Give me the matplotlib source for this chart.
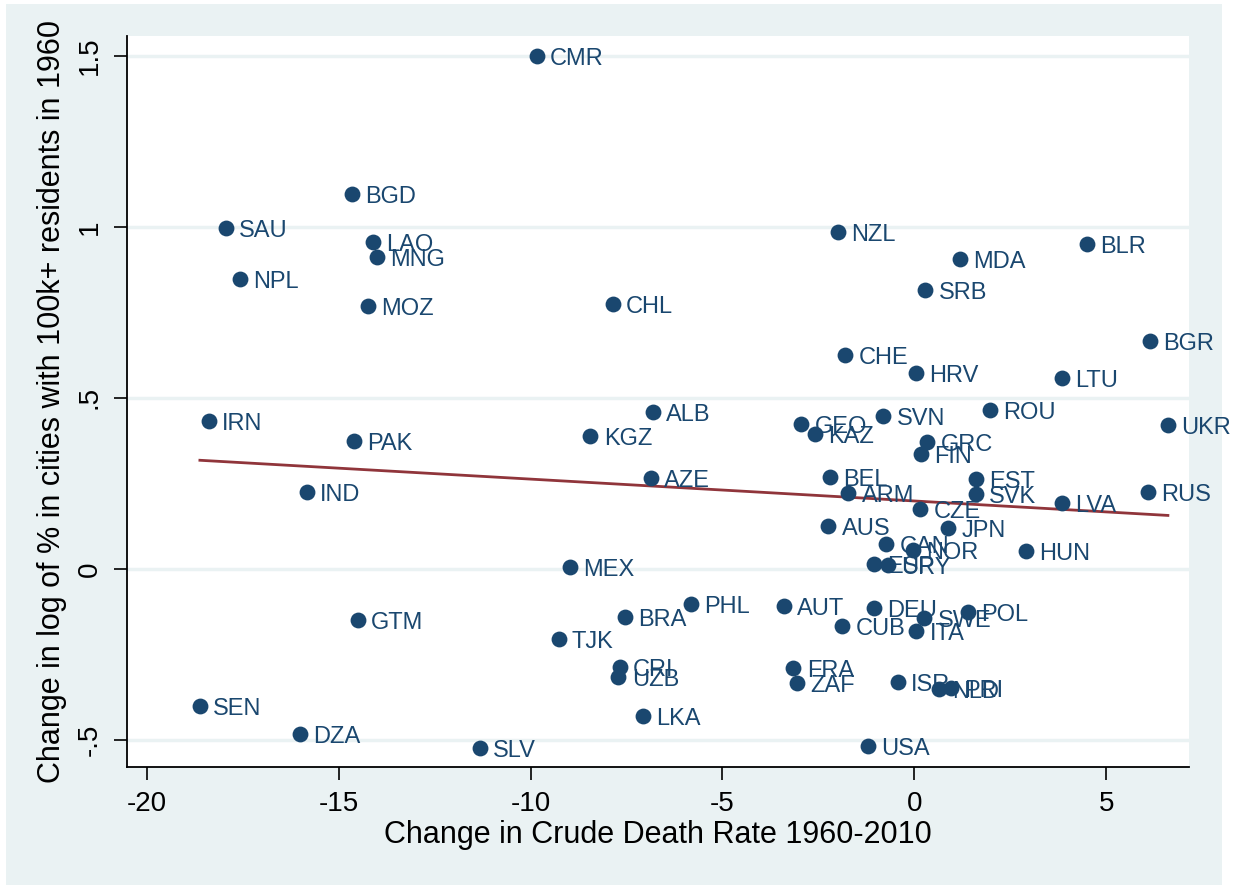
import matplotlib.pyplot as plt
import matplotlib.patches as mpatches
import numpy as np

plt.rcParams['font.family'] = ['Liberation Sans', 'DejaVu Sans']

# country codes and values
codes = ['CMR', 'BGD', 'SAU', 'LAO', 'MNG', 'NPL', 'MOZ', 'CHL', 'NZL', 'BLR',
         'MDA', 'SRB', 'BGR', 'CHE', 'HRV', 'LTU', 'IRN', 'ALB', 'KGZ', 'PAK',
         'GEO', 'KAZ', 'SVN', 'ROU', 'GRC', 'FIN', 'UKR', 'AZE', 'BEL', 'EST',
         'SVK', 'RUS', 'IND', 'ARM', 'CZE', 'LVA', 'AUS', 'JPN', 'CAN', 'NOR',
         'HUN', 'ESP', 'URY', 'MEX', 'PHL', 'AUT', 'DEU', 'POL', 'SWE', 'GTM',
         'BRA', 'CUB', 'ITA', 'TJK', 'CRI', 'UZB', 'FRA', 'ZAF', 'ISR', 'NLD',
         'PRI', 'SEN', 'DZA', 'LKA', 'SLV', 'USA']
d_cdr = [-9.84, -14.66, -17.94, -14.11, -14.01, -17.58, -14.24, -7.86, -2.0, 4.5,
         1.20, 0.29, 6.15, -1.80, 0.05, 3.85, -18.39, -6.82, -8.44, -14.61,
         -2.94, -2.58, -0.81, 1.98, 0.34, 0.18, 6.61, -6.875, -2.19, 1.61,
         1.61, 6.09, -15.83, -1.72, 0.16, 3.85, -2.24, 0.885, -0.73, -0.03,
         2.92, -1.04, -0.68, -8.98, -5.83, -3.39, -1.04, 1.41, 0.26, -14.5,
         -7.55, -1.875, 0.05, -9.27, -7.68, -7.71, -3.15, -3.05, -0.42, 0.65,
         0.96, -18.62, -16.02, -7.08, -11.33, -1.20]
d_urban = [1.500, 1.096, 0.997, 0.956, 0.912, 0.848, 0.769, 0.775, 0.985, 0.950,
           0.906, 0.816, 0.667, 0.626, 0.573, 0.558, 0.433, 0.459, 0.389, 0.374,
           0.424, 0.395, 0.447, 0.465, 0.371, 0.336, 0.421, 0.266, 0.269, 0.263,
           0.219, 0.225, 0.225, 0.222, 0.175, 0.193, 0.126, 0.120, 0.073, 0.056,
           0.053, 0.015, 0.012, 0.006, -0.102, -0.108, -0.114, -0.126, -0.143, -0.149,
           -0.140, -0.167, -0.181, -0.205, -0.287, -0.316, -0.289, -0.333, -0.330, -0.351,
           -0.348, -0.401, -0.482, -0.430, -0.523, -0.518]

xticks = [-20, -15, -10, -5, 0, 5]
yticks = [-0.5, 0, 0.5, 1, 1.5]
ytick_labels = ['-.5', '0', '.5', '1', '1.5']

navy = '#1a476f'
maroon = '#90353b'
bg = '#eaf2f3'

fig = plt.figure(figsize=(12.42, 8.85), dpi=100, facecolor='white')
fig.patches.append(mpatches.Rectangle((6 / 1242, 0), (1222 - 6) / 1242, 1 - 4 / 885,
                                      transform=fig.transFigure, facecolor=bg,
                                      edgecolor='none', zorder=-10))

ax = fig.add_axes([127 / 1242, 1 - 767 / 885, (1189 - 127) / 1242, (767 - 36) / 885])
ax.set_facecolor('white')

for yv in yticks:
    ax.axhline(yv, color=bg, lw=2.5, zorder=1)

ax.scatter(d_cdr, d_urban, s=130, color=navy, zorder=3, linewidths=0)
for c, xv, yv in zip(codes, d_cdr, d_urban):
    ax.annotate(c, (xv, yv), xytext=(9.5, -2), textcoords='offset points',
                fontsize=17, color=navy, va='center', ha='left', zorder=4)

# linear fit
x = np.array(d_cdr)
y = np.array(d_urban)
b, a = np.polyfit(x, y, 1)
xs = np.array([x.min(), x.max()])
ax.plot(xs, a + b * xs, color=maroon, lw=2, zorder=2)

ax.set_xlim(-20.52, 7.16)
ax.set_ylim(-0.579, 1.558)
ax.set_xticks(xticks)
ax.set_xticklabels([str(t) for t in xticks])
ax.set_yticks(yticks)
ax.set_yticklabels(ytick_labels, rotation=90, va='center')

for s in ['top', 'right']:
    ax.spines[s].set_visible(False)
for s in ['left', 'bottom']:
    ax.spines[s].set_linewidth(1.3)
    ax.spines[s].set_color('black')
ax.tick_params(direction='out', length=9.5, width=1.2, labelsize=20, pad=8)

ax.set_xlabel('Change in Crude Death Rate 1960-2010', fontsize=22, labelpad=2)
ax.set_ylabel('Change in log of % in cities with 100k+ residents in 1960', fontsize=22,
              labelpad=7)

fig.savefig('out.png', dpi=100, facecolor=fig.get_facecolor())
